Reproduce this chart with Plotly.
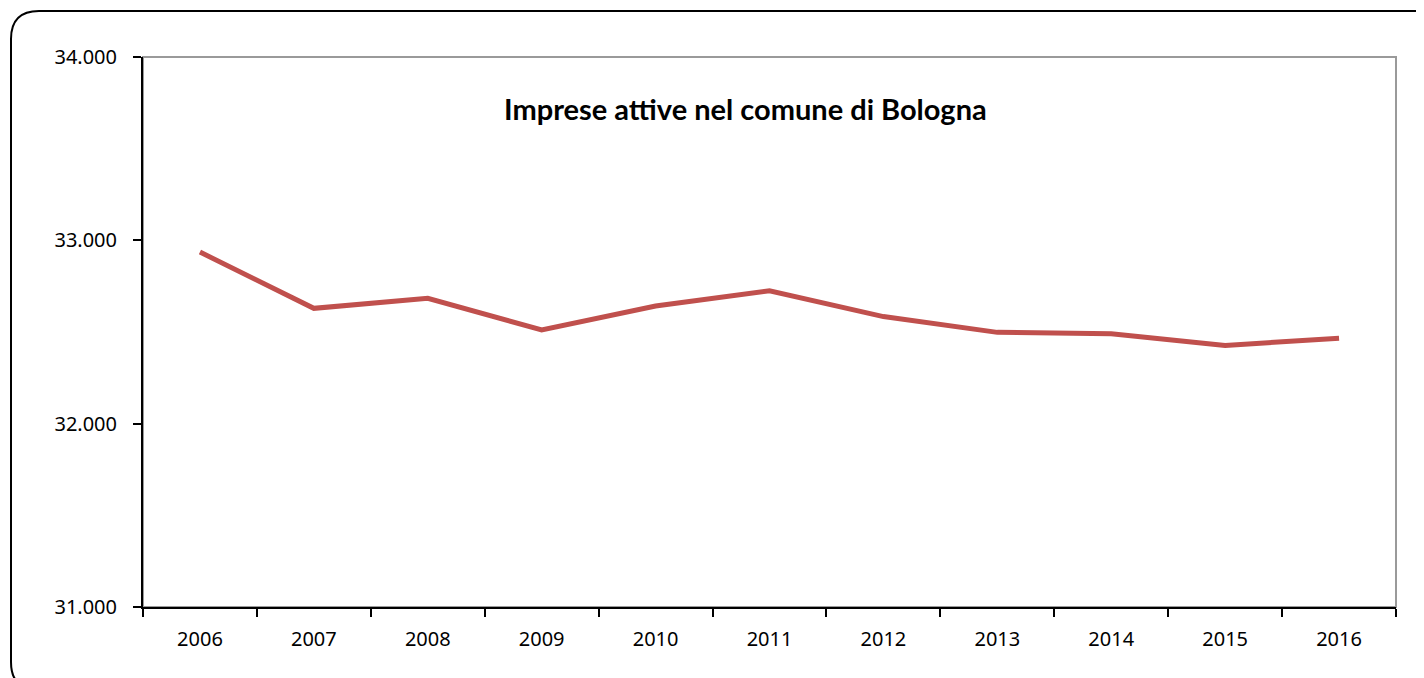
import plotly.graph_objects as go

years = ["2006", "2007", "2008", "2009", "2010", "2011", "2012", "2013", "2014", "2015", "2016"]
imprese = [32936, 32629, 32684, 32511, 32642, 32725, 32584, 32498, 32491, 32427, 32466]
y_ticks = [31000, 32000, 33000, 34000]
title_text = "Imprese attive nel comune di Bologna"

# page has an 8px default body margin; the figure is offset by it
OFF = 8
W, H = 1416, 670
L, T = 143 - OFF, 57 - OFF
R = W - (1396 - OFF)
B = H - (607 - OFF)
pw, ph = W - L - R, H - T - B


def px(x):
    return (x - OFF - L) / pw


def py(y):
    return (H - B - (y - OFF)) / ph


fig = go.Figure()
fig.add_trace(go.Scatter(
    x=years, y=imprese, mode="lines",
    line=dict(color="#C0504D", width=5),
    showlegend=False, hoverinfo="x+y",
))

# outer rounded frame (extends beyond the visible page on right/bottom)
x0, y0, x1, y1, r = 11, 11, 1448, 690, 28
path = (
    f"M {px(x0)},{py(y0 + r)} "
    f"Q {px(x0)},{py(y0)} {px(x0 + r)},{py(y0)} "
    f"L {px(x1 - r)},{py(y0)} "
    f"Q {px(x1)},{py(y0)} {px(x1)},{py(y0 + r)} "
    f"L {px(x1)},{py(y1 - r)} "
    f"Q {px(x1)},{py(y1)} {px(x1 - r)},{py(y1)} "
    f"L {px(x0 + r)},{py(y1)} "
    f"Q {px(x0)},{py(y1)} {px(x0)},{py(y1 - r)} Z"
)
fig.add_shape(type="path", path=path, xref="paper", yref="paper",
              line=dict(color="black", width=2), layer="below")
# plot-area border (gray top/right)
fig.add_shape(type="rect", xref="paper", yref="paper", x0=0, y0=0, x1=1, y1=1,
              line=dict(color="#9a9a9a", width=2), layer="below")

fig.add_annotation(
    text=f"<b>{title_text}</b>", xref="paper", yref="paper",
    x=px(745), y=py(108), xanchor="center", yanchor="middle",
    showarrow=False, font=dict(family="Lato", size=29, color="black"),
)

fig.update_xaxes(
    type="category", range=[-0.5, 10.5], tickson="boundaries",
    ticks="outside", ticklen=8, tickwidth=2, tickcolor="black",
    showline=True, linecolor="black", linewidth=2, showgrid=False,
    tickfont=dict(family="Noto Sans", size=20, color="black"),
    ticklabelstandoff=13, zeroline=False,
)
fig.update_yaxes(
    range=[31000, 34000], tickvals=y_ticks, tickformat=",.0f",
    ticks="outside", ticklen=8, tickwidth=2, tickcolor="black",
    showline=True, linecolor="black", linewidth=2, showgrid=False,
    tickfont=dict(family="Noto Sans", size=20, color="black"),
    ticklabelstandoff=12, zeroline=False,
)
fig.update_layout(
    width=W, height=H, separators=",.",
    margin=dict(l=L, r=R, t=T, b=B),
    paper_bgcolor="white", plot_bgcolor="white",
)
fig.write_html("out.html")
